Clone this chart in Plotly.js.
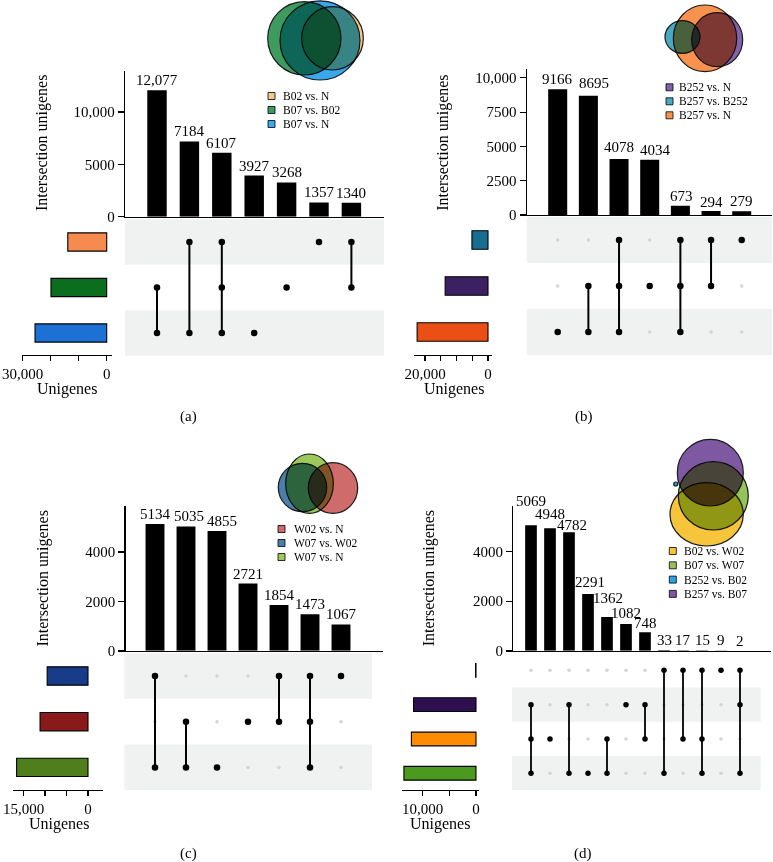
<!DOCTYPE html>
<html><head><meta charset="utf-8">
<script src="https://cdn.plot.ly/plotly-3.0.1.min.js"></script>
<style>
html,body{margin:0;padding:0;background:#fff}
#chart .layer-above .shapelayer path{mix-blend-mode:multiply}
</style>
</head><body><div id="chart" style="width:773px;height:862px"></div>
<script>
// ---------------- DATA ----------------
// (a)
const a_sets = ['B02 vs. N', 'B07 vs. B02', 'B07 vs. N'];          // matrix rows, top to bottom
const a_setSizes = [13900, 19900, 25600];
const a_counts = [12077, 7184, 6107, 3927, 3268, 1357, 1340];
const a_members = [[1,2],[0,2],[0,1,2],[2],[1],[0],[0,1]];
const a_legend = ['B02 vs. N', 'B07 vs. B02', 'B07 vs. N'];
const a_countTicks = [0, 5000, 10000];
const a_sizeTicks = [0, 10000, 20000, 30000];
const a_sizeTickText = ['0', '', '', '30,000'];
// (b)
const b_sets = ['B257 vs. B252', 'B252 vs. N', 'B257 vs. N'];
const b_setSizes = [5100, 13600, 22500];
const b_counts = [9166, 8695, 4078, 4034, 673, 294, 279];
const b_members = [[2],[1,2],[0,1,2],[1],[0,1,2],[0,1],[0]];
const b_legend = ['B252 vs. N', 'B257 vs. B252', 'B257 vs. N'];
const b_countTicks = [0, 2500, 5000, 7500, 10000];
const b_sizeTicks = [0, 5000, 10000, 15000, 20000];
const b_sizeTickText = ['0', '', '', '', '20,000'];
// (c)
const c_sets = ['W07 vs. W02', 'W02 vs. N', 'W07 vs. N'];
const c_setSizes = [9500, 11150, 16600];
const c_counts = [5134, 5035, 4855, 2721, 1854, 1473, 1067];
const c_members = [[0,2],[1,2],[2],[1],[0,1],[0,1,2],[0]];
const c_legend = ['W02 vs. N', 'W07 vs. W02', 'W07 vs. N'];
const c_countTicks = [0, 2000, 4000];
const c_sizeTicks = [0, 5000, 10000, 15000];
const c_sizeTickText = ['0', '', '', '15,000'];
// (d)
const d_sets = ['B252 vs. B02', 'B257 vs. B07', 'B02 vs. W02', 'B07 vs. W07'];
const d_setSizes = [80, 11700, 12100, 13500];
const d_counts = [5069, 4948, 4782, 2291, 1362, 1082, 748, 33, 17, 15, 9, 2];
const d_members = [[1,2,3],[2],[1,3],[3],[2,3],[1],[1,2],[0,3],[0,2],[0,2,3],[0],[0,1,3]];
const d_legend = ['B02 vs. W02', 'B07 vs. W07', 'B252 vs. B02', 'B257 vs. B07'];
const d_countTicks = [0, 2000, 4000];
const d_sizeTicks = [0, 5000, 10000];
const d_sizeTickText = ['0', '', '10,000'];

// ---------------- STYLE / LAYOUT ----------------
const W = 773, H = 862;
const FONT = '"Liberation Serif","Times New Roman",Times,serif';
const fmt = v => v >= 10000 ? v.toLocaleString('en-US') : String(v);

const panels = [
  { sets:a_sets, sizes:a_setSizes, counts:a_counts, members:a_members, legend:a_legend,
    countTicks:a_countTicks, sizeTicks:a_sizeTicks, sizeTickText:a_sizeTickText,
    setColors:['#f68b4f','#0b6e1f','#1d70d4'],
    legendColors:['#f7c98d','#3d9b5f','#3aa8ee'],
    venn:[[301.7,6.7,363.3,70],[267.7,1.7,341,75],[280,0.8,360,80]],
    leg:{sx:268, tx:281, y0:96, dy:14},
    bar:{dom:[125,384], c0:157, step:32.4, top:71, base:216.7, scale:0.01047, free:null},
    mat:{dom:[125,384], c0:157, step:32.4, top:217, bot:357, row0:242, dy:45.5},
    size:{dom:[21.7,111.7], zero:106.7, ref:22.7, refVal:30000, top:217, bot:355},
    emptyDots:false, dotSize:6.5, lineW:2, barW:0.6,
    tag:{t:'(a)', x:188, y:416}, ytitle:{x:42, y:143}, xtitle:{x:67, y:389} },
  { sets:b_sets, sizes:b_setSizes, counts:b_counts, members:b_members, legend:b_legend,
    countTicks:b_countTicks, sizeTicks:b_sizeTicks, sizeTickText:b_sizeTickText,
    setColors:['#176e8f','#3b2062','#ea5016'],
    legendColors:['#8262a8','#4aa9c2','#f8924f'],
    venn:[[691.7,12.7,742.7,66.7],[665,20.7,700,53.3],[673.3,5,736.7,71.7]],
    leg:{sx:666, tx:677, y0:87.3, dy:14},
    bar:{dom:[526.7,772], c0:557.7, step:30.67, top:69.3, base:215, scale:0.01372, free:null},
    mat:{dom:[526.7,772], c0:557.7, step:30.67, top:215, bot:355, row0:240, dy:46},
    size:{dom:[414,491.7], zero:488, ref:425, refVal:20000, top:215, bot:355},
    emptyDots:true, dotSize:6.5, lineW:2, barW:0.62,
    labelShift:[0,3,2,0,0,-1,0], labelXShift:[0,5.5,0,6,1,0,0],
    tag:{t:'(b)', x:584, y:416}, ytitle:{x:443.3, y:142.5}, xtitle:{x:453.7, y:389} },
  { sets:c_sets, sizes:c_setSizes, counts:c_counts, members:c_members, legend:c_legend,
    countTicks:c_countTicks, sizeTicks:c_sizeTicks, sizeTickText:c_sizeTickText,
    setColors:['#183c8a','#8a1a1a','#4e7f1c'],
    legendColors:['#d06b6b','#4b7fa9','#9cc85c'],
    venn:[[308.3,462.7,357.7,513.3],[278.3,463.3,326.7,511.7],[285.7,454,333.3,513.3]],
    leg:{sx:278, tx:291.5, y0:529, dy:14},
    bar:{dom:[118,383], c0:155, step:31, top:506, base:650.7, scale:0.02467, free:124.3},
    mat:{dom:[124.3,372], c0:155, step:31, top:653, bot:790, row0:676, dy:45.7},
    size:{dom:[13.3,103.3], zero:88, ref:45, refVal:10000, top:653, bot:790},
    emptyDots:true, dotSize:6.5, lineW:2, barW:0.61,
    labelShift:[0,0,0,0,0,0,0], labelXShift:[0,3,4.5,0,0,0,0],
    tag:{t:'(c)', x:188, y:853}, ytitle:{x:42, y:578.5}, xtitle:{x:58.7, y:824} },
  { sets:d_sets, sizes:d_setSizes, counts:d_counts, members:d_members, legend:d_legend,
    countTicks:d_countTicks, sizeTicks:d_sizeTicks, sizeTickText:d_sizeTickText,
    setColors:['#1f8fd6','#2e1050','#ff8c00','#4b9a1f'],
    legendColors:['#f6c53b','#94c35b','#27a3e6','#7e59a1'],
    venn:[[670,482.7,743.3,546],[678.3,461.7,748.3,530],[673.7,482,677.7,486],[677.3,439.3,743.3,506]],
    leg:{sx:669.3, tx:682, y0:551, dy:14.3},
    bar:{dom:[506,770.7], c0:531, step:19, top:506, base:650.7, scale:0.02475, free:512},
    mat:{dom:[512,760.7], c0:531, step:19, top:653, bot:790, row0:670.3, dy:34.33},
    size:{dom:[402.3,479], zero:476, ref:449.3, refVal:5000, top:653, bot:790},
    emptyDots:true, dotSize:5.5, lineW:1.8, barW:0.615,
    labelShift:[14,4,-3,2,9,1,-1,0,0,0,0,0], labelXShift:[0,0,3,2,1,0,0,0,0,0,0,0],
    tag:{t:'(d)', x:583, y:853}, ytitle:{x:429.3, y:578}, xtitle:{x:440, y:824} }
];

const traces = [];
const layout = {
  width: W, height: H, margin: {l:0, r:0, t:0, b:0},
  paper_bgcolor: '#ffffff', plot_bgcolor: 'rgba(0,0,0,0)',
  showlegend: false, font: {family: FONT, size: 15, color: '#000'},
  shapes: [], annotations: []
};
const aid = k => (k === 1 ? '' : String(k));
const xd = (p0, p1) => [p0 / W, p1 / W];
const yd = (top, bot) => [1 - bot / H, 1 - top / H];
const base = {showgrid:false, zeroline:false, fixedrange:true};

panels.forEach((p, pi) => {
  const n = pi * 3;
  const kb = aid(n + 1), km = aid(n + 2), ks = aid(n + 3);
  const xb = 'x' + kb, yb = 'y' + kb, xm = 'x' + km, ym = 'y' + km, xs = 'x' + ks, ys = 'y' + ks;
  const cols = p.counts.map((_, i) => i);
  const rows = p.sets.map((_, i) => i);
  const nR = p.sets.length;

  // intersection bars
  traces.push({type:'bar', x:cols, y:p.counts, xaxis:xb, yaxis:yb, width:p.barW,
    marker:{color:'#000'}, hoverinfo:'skip'});
  // empty cells
  if (p.emptyDots) {
    const ex = [], ey = [];
    p.members.forEach((m, i) => rows.forEach(r => { if (!m.includes(r)) { ex.push(i); ey.push(r); } }));
    traces.push({type:'scatter', mode:'markers', x:ex, y:ey, xaxis:xm, yaxis:ym,
      marker:{color:'#d4d4d4', size:3.5}, hoverinfo:'skip'});
  }
  // member dots + connecting lines
  const mx = [], my = [];
  p.members.forEach((m, i) => { m.slice().sort((a, b) => a - b).forEach(r => { mx.push(i); my.push(r); }); mx.push(null); my.push(null); });
  traces.push({type:'scatter', mode:'lines+markers', x:mx, y:my, xaxis:xm, yaxis:ym,
    line:{color:'#000', width:p.lineW}, marker:{color:'#000', size:p.dotSize}, connectgaps:false, hoverinfo:'skip'});
  // set size bars
  traces.push({type:'bar', orientation:'h', x:p.sizes, y:rows, xaxis:xs, yaxis:ys, width:0.4,
    marker:{color:p.setColors, line:{color:'#000', width:1.1}}, hoverinfo:'skip'});

  // ---- axes ----
  const B = p.bar;
  layout['xaxis' + kb] = Object.assign({}, base, {domain:xd(B.dom[0], B.dom[1]),
    range:[(B.dom[0] - B.c0) / B.step, (B.dom[1] - B.c0) / B.step], anchor:yb,
    showline:true, linecolor:'#000', linewidth:1.2, ticks:'', showticklabels:false});
  const yax = Object.assign({}, base, {domain:yd(B.top, B.base), range:[0, (B.base - B.top) / B.scale],
    showline:true, linecolor:'#000', linewidth:1.2, ticks:'outside', ticklen:6, tickwidth:1.2, tickcolor:'#000',
    tickvals:p.countTicks, ticktext:p.countTicks.map(fmt), tickfont:{size:15}});
  if (B.free !== null) { yax.anchor = 'free'; yax.position = B.free / W; } else { yax.anchor = xb; }
  layout['yaxis' + kb] = yax;

  const M = p.mat;
  layout['xaxis' + km] = Object.assign({}, base, {domain:xd(M.dom[0], M.dom[1]),
    range:[(M.dom[0] - M.c0) / M.step, (M.dom[1] - M.c0) / M.step], anchor:ym, visible:false});
  const mTop = (M.top - M.row0) / M.dy, mBot = (M.bot - M.row0) / M.dy;
  layout['yaxis' + km] = Object.assign({}, base, {domain:yd(M.top, M.bot), range:[mBot, mTop], anchor:xm, visible:false});

  const S = p.size;
  const sval = px => (S.zero - px) / (S.zero - S.ref) * S.refVal;
  layout['xaxis' + ks] = Object.assign({}, base, {domain:xd(S.dom[0], S.dom[1]), range:[sval(S.dom[0]), sval(S.dom[1])],
    anchor:ys, showline:true, linecolor:'#000', linewidth:1.2, ticks:'outside', ticklen:5, tickwidth:1.2, tickcolor:'#000',
    tickvals:p.sizeTicks, ticktext:p.sizeTickText, tickfont:{size:15}});
  layout['yaxis' + ks] = Object.assign({}, base, {domain:yd(S.top, S.bot),
    range:[(S.bot - M.row0) / M.dy, (S.top - M.row0) / M.dy], anchor:xs, visible:false});

  // matrix shading bands
  rows.forEach(r => {
    if ((nR - 1 - r) % 2 === 0) {
      layout.shapes.push({type:'rect', xref:xm + ' domain', yref:ym, x0:0, x1:1,
        y0:Math.max(r - 0.5, mTop), y1:Math.min(r + 0.5, mBot),
        fillcolor:'#f0f1f1', line:{width:0}, layer:'below'});
    }
  });

  // bar value labels
  p.counts.forEach((v, i) => {
    layout.annotations.push({xref:xb, yref:yb, x:i, y:v, text:fmt(v), showarrow:false,
      xanchor:'center', yanchor:'bottom', yshift:(p.labelShift ? p.labelShift[i] : 0),
      xshift:(p.labelXShift ? p.labelXShift[i] : 0), font:{size:15}});
  });

  // Euler diagram (layout decoration)
  p.venn.forEach((b, i) => {
    layout.shapes.push({type:'circle', xref:'paper', yref:'paper',
      x0:b[0] / W, x1:b[2] / W, y0:1 - b[3] / H, y1:1 - b[1] / H,
      fillcolor:p.legendColors[i], line:{color:'#1a1a1a', width:1.2}, layer:'above'});
  });

  // legend
  p.legend.forEach((name, i) => {
    const yc = p.leg.y0 + i * p.leg.dy;
    layout.shapes.push({type:'rect', xref:'paper', yref:'paper',
      x0:p.leg.sx / W, x1:(p.leg.sx + 7) / W, y0:1 - (yc + 3.5) / H, y1:1 - (yc - 3.5) / H,
      fillcolor:p.legendColors[i], line:{color:'#000', width:0.8}, layer:'above'});
    layout.annotations.push({xref:'paper', yref:'paper', x:p.leg.tx / W, y:1 - yc / H, text:name,
      showarrow:false, xanchor:'left', yanchor:'middle', font:{size:11.5}});
  });

  // titles and panel tag
  layout.annotations.push({xref:'paper', yref:'paper', x:p.ytitle.x / W, y:1 - p.ytitle.y / H,
    text:'Intersection unigenes', textangle:-90, showarrow:false, xanchor:'center', yanchor:'middle', font:{size:16}});
  layout.annotations.push({xref:'paper', yref:'paper', x:p.xtitle.x / W, y:1 - p.xtitle.y / H,
    text:'Unigenes', showarrow:false, xanchor:'center', yanchor:'middle', font:{size:16}});
  layout.annotations.push({xref:'paper', yref:'paper', x:p.tag.x / W, y:1 - p.tag.y / H,
    text:p.tag.t, showarrow:false, xanchor:'center', yanchor:'middle', font:{size:15}});
});

Plotly.newPlot('chart', traces, layout, {staticPlot:true, displayModeBar:false});
</script>
</body></html>
